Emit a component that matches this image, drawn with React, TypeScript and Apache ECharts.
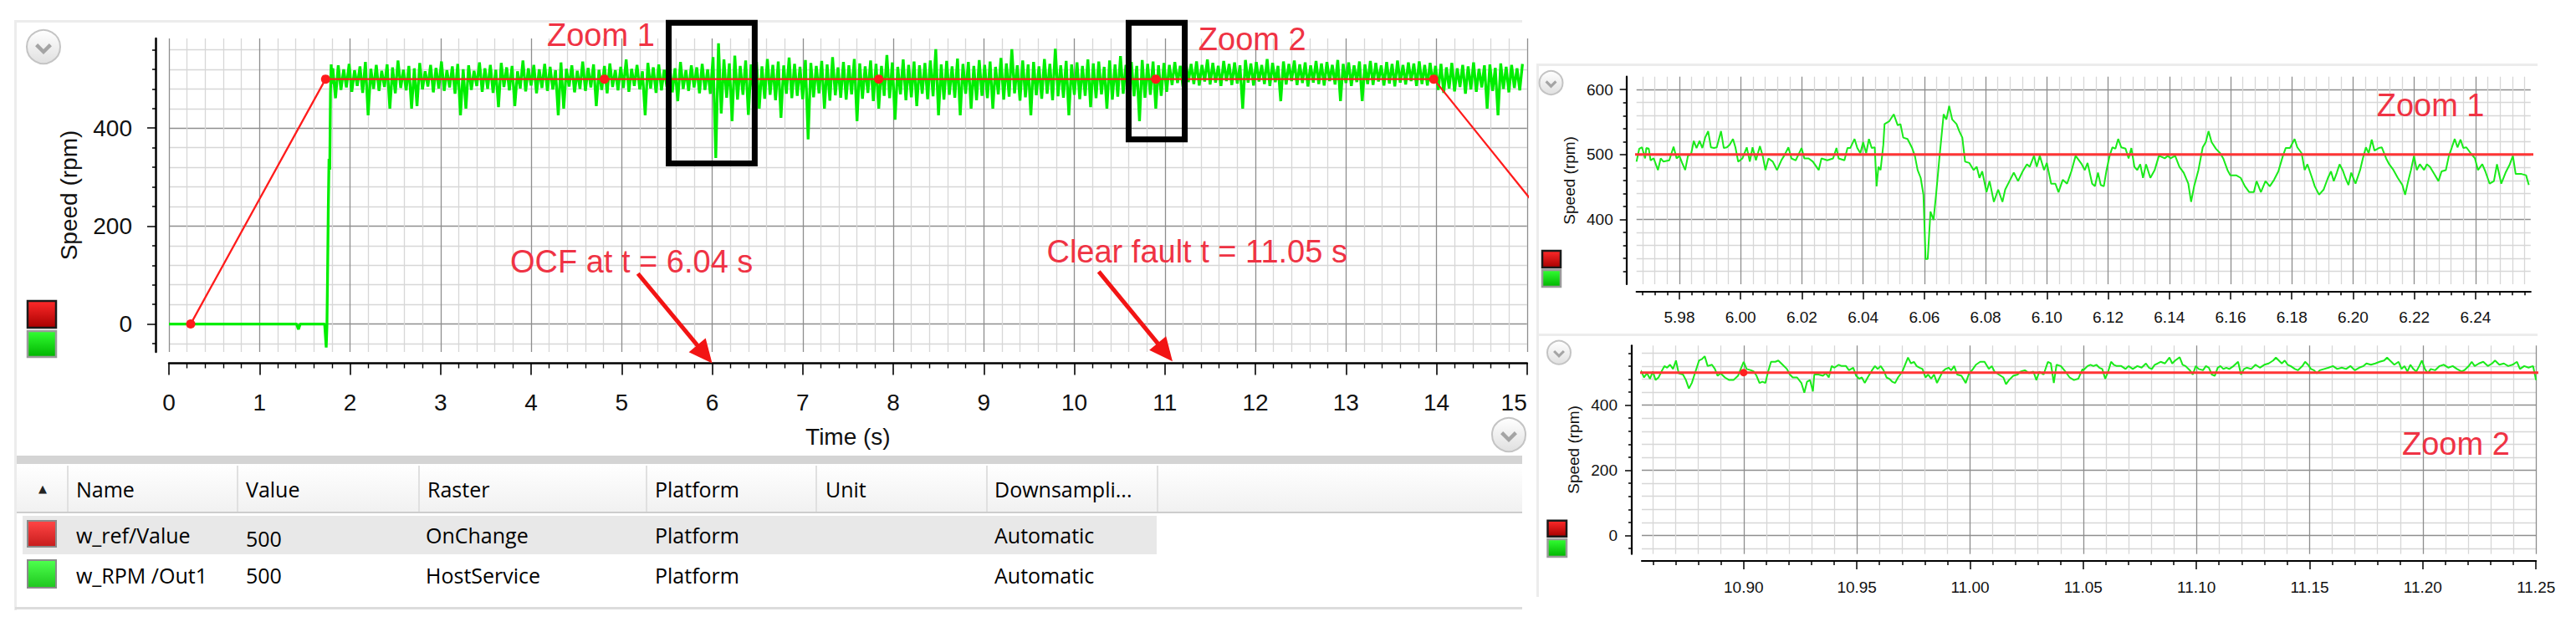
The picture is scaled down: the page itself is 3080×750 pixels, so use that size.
import React, { useEffect, useRef } from "react";
import * as echarts from "echarts";

const FONT = "'Liberation Sans', Arial, Helvetica, sans-serif";
const TABLE_FONT = "'Open Sans', 'Liberation Sans', sans-serif";
const RED = "#ff1c1c";
const GREEN = "#00ee00";
const NOTE_RED = "#ef3344";
const MAJOR_GRID = "#8e8e8e";
const MINOR_GRID = "#d7d7d7";

// ---------------- axes ----------------
const speedMin = -57;
const speedMax = 583;
const speedMajorTicks = [0, 200, 400];
const speedMinorTicks = [-40, 40, 80, 120, 160, 240, 280, 320, 360, 440, 480, 520, 560];
const timeMin = 0;
const timeMax = 15;
const zoom1SpeedMin = 300;
const zoom1SpeedMax = 620;
const zoom1SpeedMajorTicks = [400, 500, 600];
const zoom1SpeedMinorTicks = [320, 340, 360, 380, 420, 440, 460, 480, 520, 540, 560, 580];
const zoom1TimeMin = 5.966;
const zoom1TimeMax = 6.258;
const zoom1TimeMajorTicks = [5.98, 6.0, 6.02, 6.04, 6.06, 6.08, 6.1, 6.12, 6.14, 6.16, 6.18, 6.2, 6.22, 6.24];
const zoom1TimeMinorStep = 0.004;
const zoom2TimeMin = 10.855;
const zoom2TimeMax = 11.25;
const zoom2TimeMajorTicks = [10.9, 10.95, 11.0, 11.05, 11.1, 11.15, 11.2, 11.25];
const zoom2TimeMinorStep = 0.01;

// ---------------- series data ----------------
// w_ref/Value (reference speed, OnChange samples)
const redT = [0.24, 1.73, 4.81, 7.84, 10.9, 13.97, 16.15];
const redV = [0, 500, 500, 500, 500, 500, 0];

// w_RPM /Out1 before and during start-up
const greenPreT = [0, 1.41, 1.43, 1.45, 1.72, 1.737, 1.745, 1.752, 1.76, 1.768, 1.776, 1.784, 1.792, 1.8];
const greenPreV = [0, 0, -11, 0, 0, -48, -5, 100, 235, 337, 315, 470, 530, 490];

// w_RPM /Out1 steady running, sampled every 0.03 s from 1.81 s
const bandStart = 1.81;
const bandStep = 0.03;
const greenBandV = [
  522, 461, 528, 478, 520, 483, 531, 474, 518, 486, 526, 472, 535, 426, 521, 480, 529, 476, 517, 484,
  530, 440, 524, 471, 538, 482, 519, 477, 527, 440, 522, 445, 533, 479, 516, 485, 529, 473, 523, 481,
  536, 476, 518, 483, 526, 470, 531, 426, 520, 440, 528, 478, 517, 486, 534, 474, 522, 480, 529, 472,
  519, 443, 533, 484, 524, 477, 527, 445, 516, 481, 538, 475, 522, 487, 529, 471, 520, 482, 531, 476,
  525, 479, 518, 426, 534, 440, 521, 485, 528, 473, 517, 480, 536, 476, 523, 483, 530, 445, 519, 478,
  527, 471, 532, 484, 518, 477, 525, 482, 540, 474, 521, 486, 529, 479, 516, 426, 533, 481, 524, 472,
  530, 477, 519, 484, 527, 473, 522, 455, 535, 480, 518, 476, 528, 483, 524, 471, 531, 478, 520, 470,
  545, 339, 573, 430, 540, 462, 532, 414, 548, 458, 527, 468, 538, 427, 530, 465, 535, 440, 526, 460,
  541, 468, 529, 457, 536, 421, 528, 470, 544, 461, 531, 466, 525, 459, 539, 377, 533, 463, 527, 471,
  537, 440, 530, 456, 545, 467, 524, 462, 535, 458, 528, 469, 541, 414, 532, 460, 526, 472, 538, 455,
  531, 440, 527, 466, 549, 461, 534, 417, 525, 469, 540, 457, 529, 463, 536, 445, 528, 470, 533, 459,
  538, 465, 561, 426, 530, 458, 537, 468, 526, 462, 542, 426, 531, 470, 535, 440, 527, 457, 539, 466,
  529, 461, 536, 440, 525, 469, 543, 458, 532, 464, 561, 471, 528, 456, 538, 463, 530, 426, 535, 467,
  526, 460, 541, 470, 531, 457, 562, 465, 528, 462, 537, 426, 530, 468, 534, 459, 527, 466, 540, 443,
  532, 461, 536, 469, 525, 440, 538, 458, 530, 464, 547, 470, 529, 457, 535, 465, 527, 414, 539, 462,
  531, 468, 536, 440, 528, 466, 533, 474, 529, 488, 535, 492, 527, 485, 538, 494, 531, 490, 536, 487,
  529, 495, 540, 489, 533, 493, 527, 486, 537, 496, 531, 488, 534, 491, 528, 440, 539, 493, 532, 487,
  535, 495, 529, 490, 541, 486, 533, 494, 527, 455, 536, 489, 531, 496, 538, 488, 530, 492, 534, 485,
  528, 493, 537, 490, 532, 487, 535, 496, 529, 489, 539, 455, 531, 492, 534, 486, 528, 494, 536, 455,
  530, 490, 537, 488, 533, 495, 528, 487, 535, 491, 531, 485, 538, 493, 529, 489, 534, 496, 532, 486,
  536, 490, 529, 487, 533, 492, 527, 478, 531, 472, 524, 481, 533, 475, 522, 484, 529, 470, 526, 479,
  534, 474, 521, 483, 528, 440, 530, 476, 523, 426, 532, 480, 525, 473, 529, 482, 522, 477, 531,
];

// Zoom 1 detail (5.966 s .. 6.258 s)
const zoom1T = [
  5.966, 5.9669, 5.9678, 5.9688, 5.9692, 5.97, 5.9706, 5.9716, 5.973, 5.9739,
  5.9748, 5.9767, 5.9781, 5.9791, 5.98, 5.9809, 5.9819, 5.9828, 5.9838, 5.9847,
  5.9856, 5.9866, 5.9875, 5.9884, 5.9894, 5.9903, 5.9913, 5.9922, 5.9936, 5.9945,
  5.9955, 5.9964, 5.9975, 5.9983, 5.9992, 6.0006, 6.002, 6.003, 6.0039, 6.005,
  6.0063, 6.0072, 6.0081, 6.0091, 6.0105, 6.0119, 6.0133, 6.0142, 6.0156, 6.0166,
  6.018, 6.0199, 6.0208, 6.0222, 6.0236, 6.0255, 6.0264, 6.0283, 6.0302, 6.0313,
  6.032, 6.0339, 6.0349, 6.0358, 6.0372, 6.0381, 6.0391, 6.04, 6.041, 6.0419,
  6.0428, 6.0438, 6.0444, 6.045, 6.0457, 6.0466, 6.047, 6.0485, 6.05, 6.0513,
  6.0522, 6.0531, 6.0545, 6.056, 6.0569, 6.0578, 6.0588, 6.0597, 6.0604, 6.0611,
  6.062, 6.063, 6.0639, 6.0649, 6.0663, 6.0672, 6.0681, 6.0691, 6.0705, 6.0714,
  6.0724, 6.0733, 6.0747, 6.0761, 6.0771, 6.078, 6.0789, 6.0803, 6.0813, 6.0827,
  6.0841, 6.0855, 6.0864, 6.0878, 6.0892, 6.0906, 6.0921, 6.0935, 6.0944, 6.0958,
  6.0967, 6.0977, 6.0991, 6.1, 6.1014, 6.1028, 6.1038, 6.1052, 6.1066, 6.108,
  6.1094,
  6.1114, 6.1124, 6.1133, 6.1148, 6.1157, 6.1167, 6.1176, 6.1186, 6.1195, 6.1205,
  6.1214, 6.1224, 6.1233, 6.1243, 6.1257, 6.1267, 6.1276, 6.1286, 6.1295, 6.1305,
  6.1314, 6.1324, 6.1338, 6.1352, 6.1366, 6.1376, 6.1385, 6.1395, 6.1404, 6.1419,
  6.1433, 6.1447, 6.1462, 6.1471, 6.1481, 6.1495, 6.1509, 6.1519, 6.1528, 6.1538,
  6.1552, 6.1566, 6.1576, 6.159, 6.1599, 6.1618, 6.1633, 6.1647, 6.1661, 6.1676,
  6.1685, 6.1699, 6.1714, 6.1728, 6.1742, 6.1756, 6.1771, 6.178, 6.1794, 6.1809,
  6.1818, 6.1832, 6.1842, 6.1851, 6.1866, 6.1875, 6.1889, 6.1904, 6.1918, 6.1928,
  6.1937, 6.1947, 6.1956, 6.1966, 6.1975, 6.1985, 6.1994, 6.2008, 6.2023, 6.2032,
  6.2042, 6.2051, 6.2061, 6.207, 6.2084, 6.2094, 6.2108, 6.2118, 6.2132, 6.2146,
  6.2161, 6.217, 6.218, 6.2189, 6.2199, 6.2208, 6.2218, 6.2232, 6.2241, 6.2251,
  6.2265, 6.2279, 6.2289, 6.2303, 6.2313, 6.2322, 6.2332, 6.2341, 6.2351, 6.236,
  6.237, 6.2384, 6.2398, 6.2408, 6.2422, 6.2432, 6.2446, 6.246, 6.247, 6.2484,
  6.2498, 6.2512, 6.2522, 6.2531, 6.255, 6.2565, 6.2574,
];
const zoom1V = [
  489, 509, 511, 494, 510, 509, 491, 494, 476, 494,
  489, 491, 512, 494, 498, 487, 476, 498, 500, 521,
  510, 521, 510, 526, 536, 511, 510, 511, 536, 510,
  511, 515, 524, 511, 489, 494, 511, 489, 511, 491,
  513, 498, 476, 494, 489, 476, 491, 498, 511, 494,
  491, 510, 494, 494, 489, 476, 494, 491, 494, 510,
  494, 491, 510, 510, 524, 510, 502, 519, 502, 524,
  510, 511, 451, 481, 476, 515, 547, 551, 562, 545,
  547, 526, 524, 510, 498, 476, 464, 438, 339, 339,
  412, 399, 442, 494, 562, 554, 575, 554, 547, 536,
  526, 489, 487, 476, 481, 464, 474, 442, 459, 427,
  446, 427, 446, 459, 472, 459, 474, 485, 481, 498,
  481, 498, 476, 487, 455, 455, 442, 461, 455, 474,
  498,
  485, 476, 487, 455, 451, 472, 453, 451, 476, 498,
  511, 509, 524, 511, 509, 494, 510, 481, 476, 485,
  464, 485, 464, 476, 498, 496, 494, 498, 494, 498,
  481, 472, 455, 427, 451, 476, 511, 519, 536, 519,
  509, 502, 494, 476, 468, 468, 464, 451, 442, 442,
  459, 442, 459, 451, 461, 474, 498, 510, 510, 524,
  511, 502, 476, 485, 464, 451, 438, 446, 464, 474,
  459, 472, 485, 476, 464, 453, 472, 455, 476, 494,
  511, 502, 523, 506, 510, 511, 494, 485, 476, 464,
  453, 438, 459, 476, 498, 476, 485, 476, 485, 481,
  470, 459, 474, 476, 498, 510, 524, 511, 523, 510,
  511, 502, 494, 476, 485, 474, 455, 459, 485, 455,
  472, 485, 498, 470, 470, 468, 453,
];

// Zoom 2 detail (10.855 s .. 11.25 s)
const zoom2T = [
  10.8539, 10.8548, 10.856, 10.8573, 10.8586, 10.8599, 10.8611, 10.8624, 10.8637, 10.865,
  10.8662, 10.8675, 10.8688, 10.8701, 10.8713, 10.8732, 10.8745, 10.8758, 10.8771, 10.8783,
  10.8803, 10.8815, 10.8828, 10.8841, 10.886, 10.8873, 10.8885, 10.8898, 10.8917, 10.8936,
  10.8955, 10.8975, 10.8987, 10.9, 10.9013, 10.9032, 10.9045, 10.9057, 10.907, 10.9083,
  10.9096, 10.9108, 10.9121, 10.914, 10.9153, 10.9172, 10.9191, 10.9204, 10.9217, 10.9236,
  10.9255, 10.9268, 10.928, 10.9293, 10.9306, 10.9312, 10.9331, 10.935, 10.9363, 10.9376,
  10.9389, 10.9401, 10.942, 10.9433, 10.9452, 10.9465, 10.9484, 10.9497, 10.951, 10.9522,
  10.9535, 10.9548, 10.9567, 10.958, 10.9592, 10.9605, 10.9618, 10.9631, 10.9643, 10.9656,
  10.9669, 10.9682, 10.9701, 10.9713, 10.9726, 10.9739, 10.9752, 10.9764, 10.9777, 10.979,
  10.9803, 10.9815, 10.9828, 10.9841, 10.9854, 10.9866, 10.9879, 10.9892, 10.9905, 10.9917,
  10.993, 10.9943, 10.9962, 10.9981, 10.9994, 11.0013, 11.0026, 11.0045, 11.0064, 11.0083,
  11.0096, 11.0108, 11.0127, 11.0147, 11.0159, 11.0172, 11.0191, 11.021, 11.0223, 11.0242,
  11.0261, 11.028, 11.0293, 11.0306, 11.0325, 11.0344, 11.0357, 11.037, 11.0382, 11.0401,
  11.0421, 11.044, 11.0459, 11.0478, 11.0497,
  11.05, 11.0519, 11.0532, 11.0545, 11.0558, 11.0571, 11.0584, 11.0597, 11.061, 11.0623,
  11.0635, 11.0648, 11.0668, 11.0687, 11.07, 11.0719, 11.0739, 11.0758, 11.0777, 11.079,
  11.0803, 11.0816, 11.0829, 11.0842, 11.0861, 11.0881, 11.0893, 11.0906, 11.0926, 11.0939,
  11.0952, 11.0971, 11.0984, 11.0997, 11.101, 11.1029, 11.1042, 11.1055, 11.1068, 11.1081,
  11.1094, 11.1106, 11.1119, 11.1132, 11.1145, 11.1164, 11.1184, 11.1197, 11.121, 11.1222,
  11.1242, 11.1261, 11.128, 11.13, 11.1319, 11.1339, 11.1351, 11.1364, 11.1377, 11.139,
  11.1403, 11.1416, 11.1435, 11.1448, 11.1468, 11.148, 11.1493, 11.1506, 11.1519, 11.1532,
  11.1545, 11.1564, 11.1584, 11.1603, 11.1622, 11.1642, 11.1661, 11.168, 11.17, 11.1719,
  11.1738, 11.1751, 11.1771, 11.179, 11.1809, 11.1829, 11.1842, 11.1855, 11.1874, 11.1893,
  11.1906, 11.1919, 11.1932, 11.1945, 11.1958, 11.1971, 11.1984, 11.1996, 11.2009, 11.2022,
  11.2035, 11.2054, 11.2074, 11.2093, 11.2113, 11.2132, 11.2151, 11.2171, 11.2183, 11.2203,
  11.2216, 11.2229, 11.2248, 11.2267, 11.2287, 11.2306, 11.2319, 11.2338, 11.2358, 11.2377,
  11.2396, 11.2416, 11.2429, 11.2448, 11.2467, 11.2487, 11.25,
];
const zoom2V = [
  511, 503, 485, 498, 481, 503, 477, 485, 503, 520,
  515, 524, 511, 537, 498, 494, 477, 451, 468, 494,
  537, 541, 550, 520, 524, 511, 490, 498, 485, 477,
  477, 490, 511, 533, 511, 507, 503, 490, 468, 472,
  468, 503, 533, 533, 537, 524, 511, 494, 485, 485,
  468, 438, 472, 477, 442, 494, 494, 490, 498, 485,
  520, 515, 524, 520, 520, 507, 515, 490, 481, 485,
  468, 485, 507, 520, 511, 520, 507, 485, 481, 472,
  468, 485, 503, 524, 546, 528, 533, 520, 515, 511,
  485, 494, 481, 494, 468, 485, 503, 511, 515, 507,
  520, 494, 490, 468, 494, 511, 524, 533, 533, 511,
  520, 503, 494, 485, 464, 477, 490, 494, 503, 507,
  498, 503, 477, 503, 494, 533, 528, 468, 524, 520,
  503, 485, 477, 481, 511,
  507, 520, 524, 520, 524, 515, 511, 481, 503, 533,
  524, 520, 520, 511, 520, 511, 520, 515, 528, 515,
  511, 524, 528, 533, 528, 546, 528, 537, 547, 524,
  520, 507, 494, 520, 511, 507, 520, 515, 494, 490,
  515, 520, 511, 515, 511, 520, 533, 494, 511, 515,
  511, 524, 515, 524, 528, 537, 546, 537, 528, 537,
  524, 520, 511, 507, 520, 533, 524, 511, 507, 498,
  507, 511, 515, 520, 511, 515, 511, 520, 507, 515,
  520, 528, 524, 528, 533, 537, 546, 537, 524, 533,
  511, 520, 503, 524, 511, 503, 520, 537, 511, 498,
  511, 507, 520, 524, 515, 520, 511, 503, 507, 520,
  533, 520, 528, 533, 520, 528, 537, 524, 528, 520,
  524, 533, 511, 520, 515, 520, 477,
];

// ---------------- annotations (data coordinates of main chart) ----------------
const zoomBoxes = [
  { t0: 5.52, t1: 6.47, v0: 328, v1: 615 },
  { t0: 10.6, t1: 11.22, v0: 377, v1: 615 },
];
const mainNotes = [
  { text: "Zoom 1", t: 4.77, v: 590 },
  { text: "Zoom 2", t: 11.965, v: 581 },
  { text: "OCF at t = 6.04 s", t: 5.11, v: 127 },
  { text: "Clear fault t = 11.05 s", t: 11.355, v: 148 },
];
const mainArrows = [
  { from: [5.18, 103], to: [6.0, -80] },
  { from: [10.27, 107], to: [11.085, -76] },
];
const zoomNotes = [
  { text: "Zoom 1", axis: 0, t: 6.2253, v: 576 },
  { text: "Zoom 2", axis: 2, t: 11.2146, v: 281 },
];

// ---------------- table ----------------
const tableHeaders = ["Name", "Value", "Raster", "Platform", "Unit", "Downsampli..."];
const tableRows = [
  ["w_ref/Value", "500", "OnChange", "Platform", "", "Automatic"],
  ["w_RPM /Out1", "500", "HostService", "Platform", "", "Automatic"],
];
const tableSeparators = [80, 283, 500, 772, 975, 1179, 1383];

// ---------------- helpers ----------------
function minorValues(min: number, max: number, step: number, majors: number[]) {
  const out: number[] = [];
  const n0 = Math.ceil(min / step - 1e-6);
  const n1 = Math.floor(max / step + 1e-6);
  for (let n = n0; n <= n1; n++) {
    const v = +(n * step).toFixed(4);
    if (!majors.some((m) => Math.abs(m - v) < step / 10)) out.push(v);
  }
  return out;
}

function pairs(ts: number[], vs: number[]) {
  return ts.map((t, i) => [t, vs[i]]);
}

function axis(p: any) {
  return {
    type: "value",
    gridIndex: p.gridIndex ?? 0,
    min: p.min,
    max: p.max,
    position: p.position,
    offset: p.offset,
    axisLine: { show: !!p.showLine, onZero: false, lineStyle: { color: "#000", width: p.lineWidth ?? 2.5 } },
    axisTick: { show: true, customValues: p.ticks, length: p.tickLen, lineStyle: { color: "#000", width: 1.5 } },
    axisLabel: p.labels
      ? {
          show: true,
          customValues: p.ticks,
          fontSize: p.labelSize,
          margin: p.labelMargin,
          color: "#111",
          fontFamily: FONT,
          formatter: p.fmt,
        }
      : { show: false },
    splitLine: { show: true, lineStyle: { color: p.splitColor, width: 1.3 } },
    minorTick: { show: false },
    minorSplitLine: { show: false },
    name: p.name,
    nameLocation: "middle",
    nameGap: p.nameGap,
    nameRotate: p.name && p.position === "left" ? 90 : 0,
    nameTextStyle: { fontSize: p.nameSize, color: "#111", fontFamily: FONT },
  };
}

function gradient(top: string, bottom: string) {
  return new echarts.graphic.LinearGradient(0, 0, 0, 1, [
    { offset: 0, color: top },
    { offset: 1, color: bottom },
  ]);
}

function chevron(cx: number, cy: number, r: number) {
  return [
    {
      type: "circle",
      z: 100,
      silent: true,
      shape: { cx, cy, r },
      style: { fill: gradient("#ffffff", "#e0e0e0"), stroke: "#c4c4c4", lineWidth: 2 },
    },
    {
      type: "polyline",
      z: 101,
      silent: true,
      shape: {
        points: [
          [cx - r * 0.42, cy - r * 0.12],
          [cx, cy + r * 0.3],
          [cx + r * 0.42, cy - r * 0.12],
        ],
      },
      style: { stroke: "#a4a4a4", lineWidth: r * 0.22, fill: null },
    },
  ];
}

function swatch(x: number, y: number, w: number, h: number, top: string, bottom: string, border: string) {
  return {
    type: "rect",
    z: 100,
    silent: true,
    shape: { x, y, width: w, height: h },
    style: { fill: gradient(top, bottom), stroke: border, lineWidth: 2.5 },
  };
}

function noteText(x: number, y: number, text: string, size: number) {
  return {
    type: "text",
    z: 110,
    silent: true,
    x,
    y,
    style: {
      text,
      fill: NOTE_RED,
      fontSize: size,
      fontFamily: FONT,
      align: "center",
      verticalAlign: "middle",
      textAlign: "center",
      textVerticalAlign: "middle",
    },
  };
}

// ---------------- main chart ----------------
const MAIN_W = 1845;

function mainOption() {
  const greenMain = [
    ...pairs(greenPreT, greenPreV),
    ...greenBandV.map((v, k) => [+(bandStart + k * bandStep).toFixed(3), v]),
  ];
  return {
    animation: false,
    grid: { left: 202, top: 46, right: MAIN_W - 1825.75, bottom: 124, containLabel: false, outerBoundsMode: "none" },
    xAxis: [
      {
        type: "value",
        min: timeMin,
        max: timeMax,
        interval: 1,
        position: "bottom",
        offset: 13.5,
        axisLine: { show: true, onZero: false, lineStyle: { color: "#000", width: 2.5 } },
        axisTick: { show: true, length: 14, lineStyle: { color: "#000", width: 1.6 } },
        minorTick: { show: true, splitNumber: 5, length: 6, lineStyle: { color: "#000", width: 1.4 } },
        axisLabel: {
          fontSize: 28,
          color: "#111",
          margin: 33,
          fontFamily: FONT,
          showMaxLabel: true,
          showMinLabel: true,
          alignMaxLabel: "right",
        },
        splitLine: { show: true, lineStyle: { color: MAJOR_GRID, width: 1.3 } },
        minorSplitLine: { show: true, lineStyle: { color: MINOR_GRID, width: 1.3 } },
        name: "Time (s)",
        nameLocation: "middle",
        nameGap: 74,
        nameTextStyle: { fontSize: 28, color: "#111", fontFamily: FONT },
      },
    ],
    yAxis: [
      axis({
        min: speedMin, max: speedMax, position: "left", offset: 16, showLine: true,
        ticks: speedMajorTicks, tickLen: 10, labels: true, labelSize: 28, labelMargin: 28,
        splitColor: MAJOR_GRID, name: "Speed (rpm)", nameGap: 90, nameSize: 28,
      }),
      axis({
        min: speedMin, max: speedMax, position: "left", offset: 16, showLine: false,
        ticks: speedMinorTicks, tickLen: 4, labels: false, splitColor: MINOR_GRID,
      }),
    ],
    series: [
      {
        type: "line",
        name: "w_RPM /Out1",
        xAxisIndex: 0,
        yAxisIndex: 0,
        data: greenMain,
        symbol: "none",
        showSymbol: false,
        silent: true,
        clip: true,
        lineStyle: { color: GREEN, width: 3.3 },
        z: 2,
      },
      {
        type: "line",
        name: "w_ref/Value",
        xAxisIndex: 0,
        yAxisIndex: 0,
        data: pairs(redT, redV),
        symbol: "circle",
        symbolSize: 11,
        showSymbol: true,
        showAllSymbol: true,
        silent: true,
        clip: true,
        itemStyle: { color: RED },
        lineStyle: { color: RED, width: 2.3 },
        z: 3,
      },
    ],
  };
}

function mainGraphic(chart: any) {
  const finder = { xAxisIndex: 0, yAxisIndex: 0 };
  const px = (d: number[]) => chart.convertToPixel(finder, d);
  const els: any[] = [];
  els.push(...chevron(52, 56, 20));
  els.push(...chevron(1804, 520, 20));
  els.push(swatch(33, 360, 34, 32, "#ff2a2a", "#a80000", "#1a1a1a"));
  els.push(swatch(33, 396, 34, 31, "#33ff33", "#00b400", "#9a9a9a"));
  zoomBoxes.forEach((b) => {
    const a = px([b.t0, b.v1]);
    const c = px([b.t1, b.v0]);
    els.push({
      type: "rect",
      z: 105,
      silent: true,
      shape: { x: a[0], y: a[1], width: c[0] - a[0], height: c[1] - a[1] },
      style: { fill: "none", stroke: "#000", lineWidth: 7 },
    });
  });
  mainNotes.forEach((n) => {
    const p = px([n.t, n.v]);
    els.push(noteText(p[0], p[1], n.text, 38));
  });
  mainArrows.forEach((a) => {
    const p0 = px(a.from);
    const p1 = px(a.to);
    const dx = p1[0] - p0[0];
    const dy = p1[1] - p0[1];
    const len = Math.hypot(dx, dy);
    const ux = dx / len;
    const uy = dy / len;
    const headLen = 28;
    const half = 13;
    const bx = p1[0] - ux * headLen;
    const by = p1[1] - uy * headLen;
    els.push({
      type: "line",
      z: 106,
      silent: true,
      shape: { x1: p0[0], y1: p0[1], x2: bx + ux * 3, y2: by + uy * 3 },
      style: { stroke: "#f21414", lineWidth: 5 },
    });
    els.push({
      type: "polygon",
      z: 106,
      silent: true,
      shape: {
        points: [
          [p1[0], p1[1]],
          [bx - uy * half, by + ux * half],
          [bx + uy * half, by - ux * half],
        ],
      },
      style: { fill: "#f21414" },
    });
  });
  return els;
}

// ---------------- zoom charts ----------------
function zoomOption() {
  const fmt2 = (v: number) => v.toFixed(2);
  const z1MinorT = minorValues(zoom1TimeMin, zoom1TimeMax, zoom1TimeMinorStep, zoom1TimeMajorTicks);
  const z2MinorT = minorValues(zoom2TimeMin, zoom2TimeMax, zoom2TimeMinorStep, zoom2TimeMajorTicks);
  const greenStyle = { color: "#1aea1a", width: 2 };
  const redStyle = { color: "#ff3535", width: 3 };
  return {
    animation: false,
    grid: [
      { left: 136.7, top: 91.7, width: 1069.1, height: 248.3, containLabel: false, outerBoundsMode: "none" },
      { left: 143, top: 413.3, width: 1069.2, height: 249.4, containLabel: false, outerBoundsMode: "none" },
    ],
    xAxis: [
      axis({
        gridIndex: 0, min: zoom1TimeMin, max: zoom1TimeMax, position: "bottom", offset: 8.3, showLine: true,
        lineWidth: 2.2, ticks: zoom1TimeMajorTicks, tickLen: 10, labels: true, labelSize: 19, labelMargin: 22,
        fmt: fmt2, splitColor: MAJOR_GRID,
      }),
      axis({
        gridIndex: 0, min: zoom1TimeMin, max: zoom1TimeMax, position: "bottom", offset: 8.3, showLine: false,
        ticks: z1MinorT, tickLen: 5, labels: false, splitColor: MINOR_GRID,
      }),
      axis({
        gridIndex: 1, min: zoom2TimeMin, max: zoom2TimeMax, position: "bottom", offset: 8.3, showLine: true,
        lineWidth: 2.2, ticks: zoom2TimeMajorTicks, tickLen: 10, labels: true, labelSize: 19, labelMargin: 22,
        fmt: fmt2, splitColor: MAJOR_GRID,
      }),
      axis({
        gridIndex: 1, min: zoom2TimeMin, max: zoom2TimeMax, position: "bottom", offset: 8.3, showLine: false,
        ticks: z2MinorT, tickLen: 5, labels: false, splitColor: MINOR_GRID,
      }),
    ],
    yAxis: [
      axis({
        gridIndex: 0, min: zoom1SpeedMin, max: zoom1SpeedMax, position: "left", offset: 12, showLine: true,
        lineWidth: 2.2, ticks: zoom1SpeedMajorTicks, tickLen: 8, labels: true, labelSize: 19, labelMargin: 16,
        splitColor: MAJOR_GRID, name: "Speed (rpm)", nameGap: 58, nameSize: 19,
      }),
      axis({
        gridIndex: 0, min: zoom1SpeedMin, max: zoom1SpeedMax, position: "left", offset: 12, showLine: false,
        ticks: zoom1SpeedMinorTicks, tickLen: 4, labels: false, splitColor: MINOR_GRID,
      }),
      axis({
        gridIndex: 1, min: speedMin, max: speedMax, position: "left", offset: 12, showLine: true,
        lineWidth: 2.2, ticks: speedMajorTicks, tickLen: 8, labels: true, labelSize: 19, labelMargin: 17,
        splitColor: MAJOR_GRID, name: "Speed (rpm)", nameGap: 58, nameSize: 19,
      }),
      axis({
        gridIndex: 1, min: speedMin, max: speedMax, position: "left", offset: 12, showLine: false,
        ticks: speedMinorTicks, tickLen: 4, labels: false, splitColor: MINOR_GRID,
      }),
    ],
    series: [
      {
        type: "line", name: "w_RPM /Out1", xAxisIndex: 0, yAxisIndex: 0, data: pairs(zoom1T, zoom1V),
        symbol: "none", silent: true, clip: true, lineStyle: greenStyle, z: 2,
      },
      {
        type: "line", name: "w_ref/Value", xAxisIndex: 0, yAxisIndex: 0, data: pairs(redT, redV),
        symbol: "circle", symbolSize: 9, showAllSymbol: true, silent: true, clip: true,
        itemStyle: { color: "#ff2020" }, lineStyle: redStyle, z: 3,
      },
      {
        type: "line", name: "w_RPM /Out1", xAxisIndex: 2, yAxisIndex: 2, data: pairs(zoom2T, zoom2V),
        symbol: "none", silent: true, clip: true, lineStyle: greenStyle, z: 2,
      },
      {
        type: "line", name: "w_ref/Value", xAxisIndex: 2, yAxisIndex: 2, data: pairs(redT, redV),
        symbol: "circle", symbolSize: 9, showAllSymbol: true, silent: true, clip: true,
        itemStyle: { color: "#ff2020" }, lineStyle: redStyle, z: 3,
      },
    ],
  };
}

function zoomGraphic(chart: any) {
  const els: any[] = [];
  els.push(...chevron(34.5, 99, 14));
  els.push(...chevron(44, 421.7, 14));
  els.push(swatch(24, 300, 22, 20, "#ff2a2a", "#a80000", "#1a1a1a"));
  els.push(swatch(24, 323, 22, 20, "#33ff33", "#00b400", "#9a9a9a"));
  els.push(swatch(30.5, 622.7, 22.5, 19, "#ff2a2a", "#a80000", "#1a1a1a"));
  els.push(swatch(30.5, 645, 22.5, 21, "#33ff33", "#00b400", "#9a9a9a"));
  zoomNotes.forEach((n) => {
    const p = chart.convertToPixel({ xAxisIndex: n.axis, yAxisIndex: n.axis }, [n.t, n.v]);
    els.push(noteText(p[0], p[1], n.text, 38));
  });
  return els;
}

// ---------------- page ----------------
function Txt(props: { x: number; cy: number; text: string; size?: number; color?: string }) {
  const size = props.size ?? 25;
  return (
    <div
      style={{
        position: "absolute",
        left: props.x,
        top: props.cy - size,
        height: size * 2,
        lineHeight: `${size * 2}px`,
        fontSize: size,
        fontFamily: TABLE_FONT,
        color: props.color ?? "#000",
        whiteSpace: "nowrap",
      }}
    >
      {props.text}
    </div>
  );
}

const box = (s: any) => <div style={{ position: "absolute", ...s }} />;

export default function App() {
  const mainRef = useRef<HTMLDivElement>(null);
  const zoomRef = useRef<HTMLDivElement>(null);

  useEffect(() => {
    const main = echarts.init(mainRef.current as HTMLDivElement, null, { renderer: "svg" });
    main.setOption(mainOption() as any);
    main.setOption({ graphic: mainGraphic(main) } as any);
    const zoom = echarts.init(zoomRef.current as HTMLDivElement, null, { renderer: "svg" });
    zoom.setOption(zoomOption() as any);
    zoom.setOption({ graphic: zoomGraphic(zoom) } as any);
    return () => {
      main.dispose();
      zoom.dispose();
    };
  }, []);

  const colText = [91, 294, 511, 783, 987, 1189];
  const rowCy = [640, 688];

  return (
    <div
      style={{
        position: "fixed",
        left: 0,
        top: 0,
        width: 3080,
        height: 750,
        background: "#ffffff",
        overflow: "hidden",
      }}
    >
      {/* main panel frame */}
      {box({ left: 17, top: 24, width: 1803, height: 3, background: "#ececec" })}
      {box({ left: 17, top: 24, width: 3, height: 706, background: "#ececec" })}

      {/* table */}
      {box({ left: 20, top: 545, width: 1800, height: 10, background: "#d4d4d4" })}
      {box({
        left: 20,
        top: 555,
        width: 1800,
        height: 57,
        background: "linear-gradient(#ffffff, #f1f1f1)",
        borderBottom: "2px solid #cdcdcd",
      })}
      {tableSeparators.map((x, i) => (
        <div key={"sep" + i} style={{ position: "absolute", left: x, top: 557, width: 2, height: 55, background: "#e0e0e0" }} />
      ))}
      <div style={{ position: "absolute", left: 46, top: 576, fontSize: 13, lineHeight: "18px", fontFamily: "'DejaVu Sans', sans-serif", color: "#222" }}>▲</div>
      {tableHeaders.map((h, i) => (
        <Txt key={"h" + i} x={colText[i]} cy={585} text={h} />
      ))}
      {box({ left: 27, top: 617, width: 1356, height: 46, background: "#e8e8e8" })}
      {box({ left: 32, top: 622, width: 32, height: 29, border: "2px solid #8a8a8a", background: "linear-gradient(#ff4444, #c81e1e)" })}
      {box({ left: 32, top: 669, width: 32, height: 31, border: "2px solid #8a8a8a", background: "linear-gradient(#4dff4d, #1fc81f)" })}
      {tableRows.map((row, r) =>
        row.map((cell, c) =>
          cell ? (
            <Txt key={"c" + r + "_" + c} x={c === 2 ? colText[c] - 2 : colText[c]} cy={rowCy[r] + (r === 0 && c === 1 ? 4 : 0)} text={cell} />
          ) : null
        )
      )}
      {box({ left: 18, top: 726, width: 1802, height: 3, background: "#dcdcdc" })}

      {/* main chart */}
      <div style={{ position: "absolute", left: 0, top: 0, width: MAIN_W, height: 545, overflow: "hidden" }}>
        <div ref={mainRef} style={{ width: MAIN_W, height: 545 }} />
      </div>

      {/* zoom panels frame */}
      {box({ left: 1838, top: 76, width: 1196, height: 3, background: "#ececec" })}
      {box({ left: 1838, top: 399, width: 1196, height: 3, background: "#ececec" })}
      {box({ left: 1837, top: 76, width: 3, height: 638, background: "#ececec" })}

      <div ref={zoomRef} style={{ position: "absolute", left: 1820, top: 0, width: 1260, height: 750 }} />
    </div>
  );
}
